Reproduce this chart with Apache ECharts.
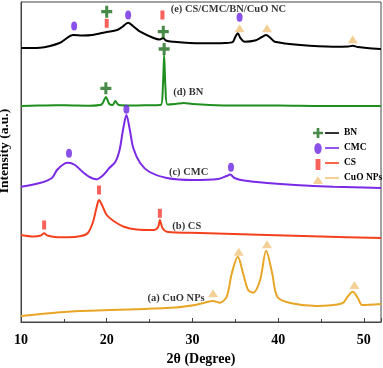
<!DOCTYPE html>
<html>
<head>
<meta charset="utf-8">
<script src="https://cdn.jsdelivr.net/npm/echarts@6/dist/echarts.min.js"></script>
<style>
  html, body { margin: 0; padding: 0; background: #fff; }
  #chart { width: 383px; height: 368px; }
</style>
</head>
<body>
<div id="chart"></div>
<script>
  // XRD patterns, stacked with offsets (intensity in arbitrary units)
  var cuoNps = [
    [10, 6], [15.5, 10.3], [23.2, 12.7], [28, 14.5], [30.3, 17], [31.5, 19.5], [32.4, 21],
    [33.2, 19.3], [34.0, 25.3], [34.6, 49], [35.3, 65.3], [35.9, 49], [36.5, 32], [37.1, 29.3],
    [37.9, 42], [38.6, 71.3], [39.3, 49], [39.9, 25.3], [41.4, 19], [44.5, 16], [47.5, 18.7],
    [48.1, 25.3], [48.7, 30.3], [49.3, 24], [49.8, 17], [52, 18]
  ];
  var cs = [
    [10, 87], [11.5, 85.5], [12.3, 86.5], [12.7, 88.7], [13.1, 86.5], [14, 85], [15.5, 84.7],
    [17, 86], [17.8, 89], [18.4, 100], [18.8, 114], [19.1, 122], [19.5, 116], [20.0, 107],
    [20.8, 101], [22, 95.3], [23.5, 92.5], [25.5, 92], [26.0, 95], [26.2, 102], [26.5, 94],
    [27.0, 90.3], [30.9, 89], [38.7, 87], [45, 85.5], [52, 84]
  ];
  var cmc = [
    [10, 135.3], [12.2, 139], [13.6, 144], [14.2, 152], [15.0, 158], [15.5, 159.3], [16.3, 157],
    [17.2, 150], [18.0, 145], [18.8, 142.7], [19.6, 147], [20.3, 154], [21.0, 160], [21.5, 172],
    [21.9, 192], [22.3, 207], [22.7, 192], [23.1, 174], [23.9, 159], [25.0, 150], [27.0, 144],
    [30.0, 142], [33.0, 143], [34.0, 146], [34.4, 147.5], [34.9, 144], [36.0, 141.5],
    [38.7, 139], [42, 137], [46.4, 135.3], [52, 134]
  ];
  var bn = [
    [10, 216], [12, 216.5], [14, 216.8], [16, 216.5], [18, 216.3], [19.4, 217.5], [19.9, 225],
    [20.3, 218], [20.7, 217], [21.0, 221], [21.4, 217], [23, 216.5], [25, 216.8], [26.3, 217],
    [26.55, 235], [26.7, 267], [26.85, 235], [27.1, 217.5], [28, 218], [29, 219], [30, 218],
    [32, 217], [35, 216.5], [40, 216.5], [45, 216], [52, 216]
  ];
  var composite = [
    [10, 274], [12.2, 274.3], [14.5, 279], [16.1, 287], [17.2, 286.5], [18.3, 287], [20.0, 290],
    [21.2, 292], [21.8, 295], [22.5, 299.3], [23.2, 295], [23.9, 290.3], [25.4, 284.3],
    [26.2, 282.5], [26.6, 284], [26.9, 281.5], [27.7, 280.3], [30.9, 278.7], [33.8, 279],
    [34.7, 280], [35.0, 285], [35.3, 288.7], [35.6, 284], [36.1, 280.3], [37.3, 281.5],
    [38.1, 285], [38.6, 287], [39.1, 284], [39.6, 280.3], [42.6, 277], [46.4, 275.3],
    [48.2, 275.5], [48.7, 276.3], [49.3, 275], [51.9, 273], [52, 273]
  ];

  // peak markers
  var bnPeaks = [[20.0, 310.3], [26.6, 290.3], [19.9, 233.7], [26.7, 273]];
  var cmcPeaks = [[16.2, 296], [22.5, 307], [35.5, 304.7], [15.6, 168.7], [22.3, 212.7], [34.5, 154.7]];
  var csPeaks = [[20.0, 298.7], [26.5, 307], [12.7, 97], [19.1, 132], [26.2, 108.7]];
  var cuoPeaks = [[35.5, 293.7], [38.7, 293.7], [48.7, 282.7], [32.4, 28.7], [35.4, 70.3], [38.7, 77.7], [48.9, 37]];

  // curve captions: [x, y, text]
  var captions = [
    [27.4, 313, '(e) CS/CMC/BN/CuO NC'],
    [27.7, 230, '(d) BN'],
    [27.2, 150, '(c) CMC'],
    [27.6, 96, '(b) CS'],
    [24.7, 24, '(a) CuO NPs']
  ];

  var legendNames = ['BN', 'CMC', 'CS', 'CuO NPs'];
  var legendLineColors = ['#000000', '#7a2ae6', '#f5401e', '#f0c47c'];

  var SERIF = '"Liberation Serif", "Times New Roman", serif';
  var PLUS = 'path://M4,0H7V4H11V7H7V11H4V7H0V4H4Z';
  var ELLIPSE = 'path://M3,0A3,4.5,0,1,1,3,9A3,4.5,0,1,1,3,0Z';
  var BAR = 'path://M0,0H4V9H0Z';
  var TRI = 'path://M5,0L10,8H0Z';

  function curve(name, data, color) {
    return {
      name: name,
      type: 'line',
      data: data,
      smooth: 0.3,
      showSymbol: false,
      symbol: 'none',
      lineStyle: { width: 2, color: color },
      itemStyle: { color: color },
      silent: true,
      z: 2
    };
  }

  function markers(name, data, symbol, size, color) {
    return {
      name: name,
      type: 'scatter',
      data: data,
      symbol: symbol,
      symbolSize: size,
      itemStyle: { color: color },
      z: 4
    };
  }

  var chart = echarts.init(document.getElementById('chart'), null, { renderer: 'canvas' });

  chart.setOption({
    animation: false,
    backgroundColor: '#fff',
    grid: {
      left: 21, right: 2, top: 2, bottom: 46,
      outerBoundsMode: 'none',
      containLabel: false,
      show: true, borderColor: '#444', borderWidth: 1
    },
    legend: [
      {
        orient: 'vertical',
        left: 308, top: 123,
        itemWidth: 10, itemHeight: 11, itemGap: 5,
        symbolKeepAspect: true,
        selectedMode: false,
        formatter: function () { return ' '; },
        textStyle: { fontFamily: SERIF, fontSize: 9.5, fontWeight: 'bold' },
        data: [
          { name: 'BN', icon: PLUS },
          { name: 'CMC', icon: ELLIPSE },
          { name: 'CS', icon: BAR },
          { name: 'CuO NPs', icon: TRI }
        ]
      },
      {
        orient: 'vertical',
        left: 320, top: 123,
        itemWidth: 14, itemHeight: 2, itemGap: 5,
        selectedMode: false,
        textStyle: { fontFamily: SERIF, fontSize: 9.5, fontWeight: 'bold', color: '#000' },
        data: legendNames.map(function (n, i) {
          return { name: n, icon: 'rect', itemStyle: { color: legendLineColors[i] } };
        })
      }
    ],
    xAxis: {
      type: 'value',
      min: 10, max: 52, interval: 10,
      name: '2θ (Degree)',
      nameLocation: 'middle',
      nameGap: 30,
      nameTextStyle: { fontFamily: SERIF, fontSize: 14, fontWeight: 'bold', color: '#000' },
      axisLine: { lineStyle: { color: '#444', width: 1 } },
      axisTick: { inside: true, length: 4, lineStyle: { color: '#444' } },
      minorTick: { show: true, splitNumber: 2, length: 3, lineStyle: { color: '#444' } },
      splitLine: { show: false },
      axisLabel: {
        margin: 11, showMaxLabel: false,
        fontFamily: SERIF, fontSize: 14, fontWeight: 'bold', color: '#000'
      }
    },
    yAxis: {
      type: 'value',
      min: 0, max: 320,
      name: 'Intensity (a.u.)',
      nameLocation: 'middle',
      nameGap: 9,
      nameTextStyle: {
        fontFamily: SERIF, fontSize: 13.5, fontWeight: 'bold', color: '#000',
        padding: [0, 0, 0, 22]
      },
      axisLine: { show: true, lineStyle: { color: '#444', width: 1 } },
      axisTick: { show: false },
      axisLabel: { show: false },
      splitLine: { show: false }
    },
    series: [
      curve('(a) CuO NPs', cuoNps, '#e8a526'),
      curve('(b) CS', cs, '#f5401e'),
      curve('(c) CMC', cmc, '#7a2ae6'),
      curve('(d) BN', bn, '#1f8f1f'),
      curve('(e) CS/CMC/BN/CuO NC', composite, '#000000'),
      markers('BN', bnPeaks, PLUS, [11, 12], '#1a6e1a'),
      markers('CMC', cmcPeaks, ELLIPSE, [6, 9], '#6c26e3'),
      markers('CS', csPeaks, BAR, [4, 9], '#f53a32'),
      markers('CuO NPs', cuoPeaks, TRI, [10, 8], '#f0c47c'),
      {
        name: 'captions',
        type: 'scatter',
        data: captions,
        symbolSize: 1,
        itemStyle: { color: 'transparent' },
        silent: true,
        z: 5,
        label: {
          show: true,
          position: 'right',
          distance: 0,
          formatter: function (p) { return p.value[2]; },
          fontFamily: SERIF, fontSize: 10.5, fontWeight: 'bold', color: '#000'
        }
      }
    ]
  });
</script>
</body>
</html>
